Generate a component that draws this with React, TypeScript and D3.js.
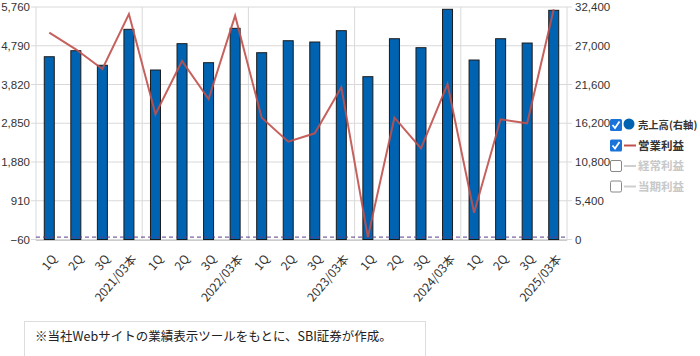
import React from "react";
import * as d3 from "d3";

const categories = ["1Q","2Q","3Q","2021/03本","1Q","2Q","3Q","2022/03本","1Q","2Q","3Q","2023/03本","1Q","2Q","3Q","2024/03本","1Q","2Q","3Q","2025/03本"];
const sales = [25470,26310,24280,29290,23620,27290,24640,29430,26030,27700,27520,29100,22690,27980,26730,32080,25010,27980,27380,31940];
const opProfit = [5117,4701,4208,5584,3074,4408,3457,5542,2989,2388,2598,3750,0,2989,2223,3832,611,2949,2848,5702];
const leftTicks = [-60,910,1880,2850,3820,4790,5760];
const rightTicks = [0,5400,10800,16200,21600,27000,32400];
const legendItems = [
  { label: "売上高(右軸)", checked: true, kind: "dot", color: "#0063b1" },
  { label: "営業利益", checked: true, kind: "line", color: "#c0504d" },
  { label: "経常利益", checked: false, kind: "line", color: "#cfcfcf" },
  { label: "当期利益", checked: false, kind: "line", color: "#cfcfcf" },
];

export default function App() {
  const W = 700, H = 356;
  const x0 = 36, x1 = 567, yTop = 7, yBot = 239.5;
  const x = d3.scaleBand<number>().domain(d3.range(categories.length)).range([x0, x1]).paddingInner(0).paddingOuter(0);
  const yL = d3.scaleLinear().domain([-60, 5760]).range([yBot, yTop]);
  const yR = d3.scaleLinear().domain([0, 32400]).range([yBot, yTop]);
  const bw = 10;
  const cx = (i: number) => (x(i) as number) + x.bandwidth() / 2;
  const line = d3.line<number>().x((_, i) => cx(i)).y((d) => yL(d));
  const fmt = d3.format(",");
  const axisFont = "'Liberation Sans', Arial, sans-serif";
  const jpFont = "'Noto Sans CJK JP', sans-serif";
  const seps = [0, 4, 8, 12, 16].map((i) => x(i) as number).concat([x1]);

  return (
    <svg width={W} height={H} style={{ position: "absolute", left: 0, top: 0, background: "#fff" }}>
      <rect x={0} y={0} width={W} height={H} fill="#fff" />
      {leftTicks.map((t) => (
        <line key={"g" + t} x1={x0 - 5} x2={x1 + 5} y1={yL(t)} y2={yL(t)} stroke="#d9d9d9" strokeWidth={1} />
      ))}
      {seps.map((s, i) => (
        <line key={"v" + i} x1={s} x2={s} y1={yTop} y2={yBot + 1} stroke="#d9d9d9" strokeWidth={1} />
      ))}
      <line x1={x0} x2={x1} y1={yBot + 1} y2={yBot + 1} stroke="#cccccc" strokeWidth={1} />
      {sales.map((v, i) => (
        <rect key={"b" + i} x={cx(i) - bw / 2} y={yR(v)} width={bw} height={yR(0) - yR(v)} fill="#0063b1" stroke="#1b1b1b" strokeWidth={1} />
      ))}
      <line x1={x0} x2={x1} y1={yL(0)} y2={yL(0)} stroke="#5a3d8a" strokeWidth={1} strokeDasharray="4,3" />
      <path d={line(opProfit) || ""} fill="none" stroke="#c0504d" strokeWidth={2} strokeOpacity={0.9} strokeLinejoin="miter" />
      {leftTicks.map((t) => (
        <text key={"l" + t} x={x0 - 6} y={yL(t)} dy="0.35em" textAnchor="end" fontSize={11.5} fontFamily={axisFont} fill="#333">
          {fmt(t)}
        </text>
      ))}
      {rightTicks.map((t) => (
        <text key={"r" + t} x={x1 + 8} y={yR(t)} dy="0.35em" textAnchor="start" fontSize={11.5} fontFamily={axisFont} fill="#333">
          {fmt(t)}
        </text>
      ))}
      {categories.map((c, i) => (
        <text key={"x" + i} transform={`translate(${cx(i) + 5},${yBot + 17}) rotate(-50)`} textAnchor="end" fontSize={12} fontFamily={jpFont} fill="#333" dy="0.35em">
          {c}
        </text>
      ))}
      {legendItems.map((it, i) => {
        const y = 125 + i * 20.5;
        return (
          <g key={"lg" + i}>
            {it.checked ? (
              <g>
                <rect x={610} y={y - 6} width={12} height={12} rx={1.5} fill="#1a73d9" />
                <path d={`M${612.5},${y} L${615},${y + 3} L${619.5},${y - 3.5}`} fill="none" stroke="#fff" strokeWidth={1.8} />
              </g>
            ) : (
              <rect x={610.5} y={y - 5.5} width={11} height={11} rx={1.5} fill="#fff" stroke="#888" strokeWidth={1} />
            )}
            {it.kind === "dot" ? (
              <circle cx={629} cy={y - 1} r={5.5} fill={it.color} />
            ) : (
              <line x1={624} x2={636} y1={y} y2={y} stroke={it.color} strokeWidth={2} />
            )}
            <text x={638} y={y} dy="0.35em" fontSize={i === 0 ? 10.3 : 11.5} fontWeight={600} fontFamily={jpFont} fill={it.checked ? "#333" : "#c8c8c8"}>
              {it.label}
            </text>
          </g>
        );
      })}
      <rect x={24.5} y={321.5} width={401} height={40} fill="#fff" stroke="#dddddd" strokeWidth={1} />
      <text x={35} y={337} dy="0.35em" fontSize={12.5} fontFamily={jpFont} fill="#222">
        ※当社Webサイトの業績表示ツールをもとに、SBI証券が作成。
      </text>
    </svg>
  );
}
